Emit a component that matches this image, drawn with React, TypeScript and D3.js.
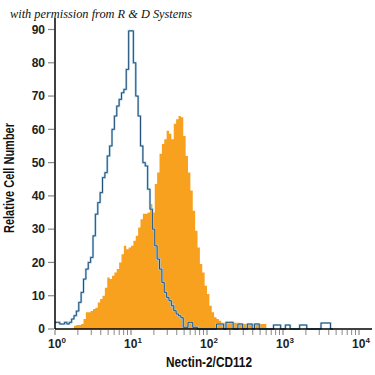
import React from 'react';
import * as d3 from 'd3';

// histogram channels: 32 bins per decade, 10^0 .. 10^4
const binsPerDecade = 32;

// isotype control (blue outline)
const isotypeCounts = [
  2, 2, 1.5, 1.5, 2, 1.5, 2, 3, 4, 5.4,
  8, 11, 15, 18, 20, 21.5, 28, 34.5, 38, 41,
  45.5, 47, 52, 55, 60, 64, 67, 69, 71, 72,
  78, 89.6, 89.6, 80, 70, 64, 55, 50, 49, 42,
  36, 30, 25, 21, 18, 14, 11, 9.5, 8.5, 7,
  5.5, 4.5, 4, 3.4, 0.5, 0.5, 2, 2, 0.5, 0.5,
  0, 0, 0, 0, 0, 0, 0, 0, 1.5, 1.5,
  1.5, 0, 2, 2, 2, 0, 0, 1.5, 1.5, 0,
  0, 1.5, 1.5, 0, 1.5, 1.5, 0, 0, 0, 0,
  0, 0, 1.2, 1.2, 1.2, 0, 0, 1.2, 1.2, 0,
  0, 0, 0, 1.2, 1.2, 1.2, 0, 0, 0, 0,
  0, 0, 1.8, 1.8, 1.8, 1.8, 0,
];

// Nectin-2/CD112 stained (orange fill)
const stainedCounts = [
  0, 0, 0, 0, 0, 0, 0, 0, 1, 1.2,
  1.2, 1.5, 3, 5, 5, 5.4, 6, 6.4, 8, 9,
  10, 12.4, 15.5, 15, 16, 17, 18, 20, 22.5, 25,
  24, 24.5, 25, 26.5, 28, 30.5, 33, 34.6, 34.6, 35,
  37.6, 35, 43.6, 47, 52.7, 55.6, 57, 59.6, 58.7, 57,
  61.7, 63, 64, 63.6, 58, 52, 47, 41.6, 35.5, 29.5,
  24.5, 19.5, 17, 13, 10.5, 7, 5, 3.5, 3, 2.5,
  1.9, 1.9, 1.9, 1.9, 1.9, 1.9, 1.9, 1.9, 1.5, 1.5,
  1.5, 1.5, 1.5, 1.5, 1.5, 1.5, 1.5, 1.5, 1.5, 0,
];

const yTicks = [0, 10, 20, 30, 40, 50, 60, 70, 80, 90];
const xDecades = [0, 1, 2, 3, 4];

const sans = "'Liberation Sans', Arial, sans-serif";

export default function App() {
  const x = d3.scaleLog().domain([1, 1e4]).range([55, 359]);
  const y = d3.scaleLinear().domain([0, 90]).range([329, 29.5]);

  const toPoints = (counts: number[]) => {
    const pts = counts.map((c, i) => [Math.pow(10, i / binsPerDecade), c] as [number, number]);
    pts.push([Math.pow(10, counts.length / binsPerDecade), counts[counts.length - 1]]);
    return pts;
  };

  const area = d3.area<[number, number]>()
    .x(d => x(d[0]))
    .y0(y(0))
    .y1(d => y(d[1]))
    .curve(d3.curveStepAfter);

  const line = d3.line<[number, number]>()
    .x(d => x(d[0]))
    .y(d => y(d[1]))
    .curve(d3.curveStepAfter);

  const minorTicks: number[] = [];
  for (let dec = 0; dec < 4; dec++) {
    for (let m = 2; m <= 9; m++) minorTicks.push(m * Math.pow(10, dec));
  }

  const isoPath = line(toPoints(isotypeCounts)) || '';

  return (
    <div style={{ position: 'fixed', left: 0, top: 0 }}>
      <svg width={375} height={375} style={{ display: 'block', background: '#fff' }}>
        <text x={10} y={18} fontFamily="'Liberation Serif', serif" fontStyle="italic" fontSize={12.5}
          textLength={182} lengthAdjust="spacingAndGlyphs" fill="#111">
          with permission from R &amp; D Systems
        </text>

        <path d={area(toPoints(stainedCounts)) || ''} fill="#f8a11f" />
        <path d={isoPath} fill="none" stroke="#a9cde3" strokeWidth={2.2} />
        <path d={isoPath} fill="none" stroke="#25507a" strokeWidth={1} />

        {/* y axis */}
        <line x1={55} x2={55} y1={18} y2={y(0)} stroke="#000" strokeWidth={1.5} />
        {yTicks.map(t => (
          <g key={t}>
            <line x1={48} x2={54} y1={y(t)} y2={y(t)} stroke="#888" strokeWidth={1.2} />
            <text x={45} y={y(t)} dy="0.36em" textAnchor="end" fontFamily={sans}
              fontWeight="bold" fontSize={12} fill="#222">{t}</text>
          </g>
        ))}
        <text transform={`translate(14,178) rotate(-90)`} textAnchor="middle" fontFamily={sans}
          fontWeight="bold" fontSize={14} textLength={110} lengthAdjust="spacingAndGlyphs"
          fill="#111">Relative Cell Number</text>

        {/* x axis */}
        <line x1={55} x2={372} y1={y(0)} y2={y(0)} stroke="#000" strokeWidth={1.5} />
        {minorTicks.map(t => (
          <line key={t} x1={x(t)} x2={x(t)} y1={y(0) + 1} y2={y(0) + 6} stroke="#888" strokeWidth={1} />
        ))}
        {xDecades.map(d => (
          <g key={d}>
            <line x1={x(Math.pow(10, d))} x2={x(Math.pow(10, d))} y1={y(0) + 1} y2={y(0) + 6}
              stroke="#888" strokeWidth={1.2} />
            <text x={x(Math.pow(10, d)) + 2} y={348} textAnchor="middle" fontFamily={sans}
              fontWeight="bold" fontSize={12} fill="#222">
              10<tspan fontSize={8} dy={-5}>{d}</tspan>
            </text>
          </g>
        ))}
        <text x={209} y={367} textAnchor="middle" fontFamily={sans} fontWeight="bold"
          fontSize={15} textLength={86} lengthAdjust="spacingAndGlyphs" fill="#111">Nectin-2/CD112</text>
      </svg>
    </div>
  );
}
